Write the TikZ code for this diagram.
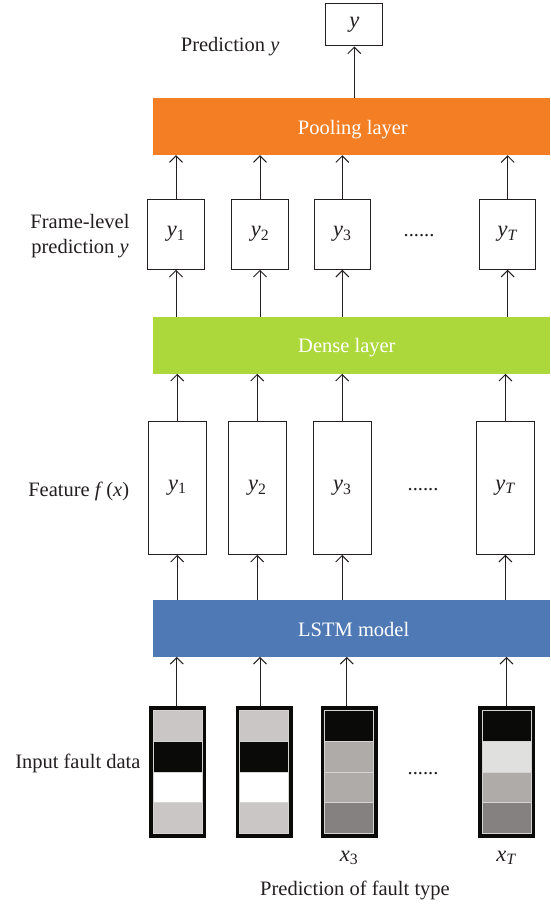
\documentclass[tikz,border=0pt]{standalone}
\usepackage{fontspec}
\setmainfont{Liberation Serif}
\usetikzlibrary{arrows.meta,calc}

\definecolor{poolc}{HTML}{F37E24}
\definecolor{densec}{HTML}{ADD83B}
\definecolor{lstmc}{HTML}{4F79B5}
\definecolor{ink}{HTML}{231F20}
\definecolor{cellA}{HTML}{C9C6C5}
\definecolor{cellK}{HTML}{0A0A08}
\definecolor{cellM}{HTML}{AEABA9}
\definecolor{cellD}{HTML}{858180}
\definecolor{cellL}{HTML}{E0E0DF}
\definecolor{cellG}{HTML}{D6D4D3}

% italic variable with upright / italic subscript
\newcommand\vsub[2]{\textit{#1}\textsubscript{#2}}
\newcommand\vsubit[2]{\textit{#1}\textsubscript{\textit{#2}}}

% one column of input fault data: name, centre x, four cell colours
\newcommand\faultcolumn[6]{%
  \node[fill=cellK, minimum width=57pt, minimum height=131.4pt] (#1) at (#2,772) {};
  \foreach \c [count=\i from 0] in {#3,#4,#5,#6} {
    \fill[\c, draw=cellG, line width=0.6pt]
      ($(#1.north west)+(4,{4+30.85*\i})$) rectangle ($(#1.north west)+(53,{4+30.85*(\i+1)})$);
  }%
}

\begin{document}
\begin{tikzpicture}[x=1pt,y=-1pt,
  every node/.style={font=\fontsize{20.5}{25}\selectfont, text=ink, inner sep=0pt},
  varfont/.style={font=\fontsize{22.5}{26}\selectfont},
  outbox/.style={draw=ink, line width=1pt, fill=white, varfont},
  framebox/.style={outbox, minimum width=56.6pt, minimum height=70.3pt},
  featbox/.style={outbox, minimum width=57.6pt, minimum height=132.6pt},
  layerbar/.style={minimum width=397.3pt, minimum height=56.7pt},
  barlabel/.style={anchor=base west, text=white},
  sidelabel/.style={anchor=base east},
  arr/.style={draw=ink, line width=1pt,
    -{Straight Barb[length=6.5pt,width=13pt,line width=1pt]}},
]
\useasboundingbox (0,0) rectangle (550,913);

% output
\node[outbox, minimum width=56.7pt, minimum height=42.3pt] (out) at (354.3,24.8) {\textit{y}};
\node[anchor=base west] (predlab) at (180.7,51.5) {Prediction \textit{y}};

% pooling layer
\node[layerbar, fill=poolc] (pool) at (351.35,126.65) {};
\node[barlabel] (poolt) at (297.7,134.3) {Pooling layer};

% frame-level predictions
\node[framebox] (r1) at (176,234.15) {\vsub{y}{1}};
\node[framebox] (r2) at (260,234.15) {\vsub{y}{2}};
\node[framebox] (r3) at (342.35,234.15) {\vsub{y}{3}};
\node[framebox] (rT) at (507.65,234.15) {\vsubit{y}{T}};
\node[anchor=base] (rdots) at (419,236) {......};
\node[anchor=base] (frl1) at (80,228) {Frame-level};
\node[anchor=base] (frl2) at (80,253) {prediction \textit{y}};

% dense layer
\node[layerbar, fill=densec] (dense) at (351.35,345.3) {};
\node[barlabel] (denset) at (298,352.9) {Dense layer};

% features
\node[featbox] (f1) at (177.2,488) {\vsub{y}{1}};
\node[featbox] (f2) at (257.2,488) {\vsub{y}{2}};
\node[featbox] (f3) at (342.2,488) {\vsub{y}{3}};
\node[featbox] (fT) at (505.4,488) {\vsubit{y}{T}};
\node[anchor=base] (fdots) at (423,490) {......};
\node[sidelabel] (featlab) at (129.3,496.5) {Feature \textit{f}\,(\textit{x})};

% LSTM model
\node[layerbar, fill=lstmc] (lstm) at (351.35,628.35) {};
\node[barlabel] (lstmt) at (298,636) {LSTM model};

% input fault data
\faultcolumn{in1}{177.5}{cellA}{cellK}{white}{cellA}
\faultcolumn{in2}{264}{cellA}{cellK}{white}{cellA}
\faultcolumn{in3}{349.3}{cellK}{cellM}{cellM}{cellD}
\faultcolumn{inT}{506.5}{cellK}{cellL}{cellM}{cellD}
\node[anchor=base] (idots) at (423,774) {......};
\node[sidelabel] (inlab) at (140.7,768.3) {Input fault data};
\node[varfont] (x3) at (349,858) {\vsub{x}{3}};
\node[varfont] (xT) at (506.5,858) {\vsubit{x}{T}};
\node[anchor=base] (foot) at (355,895) {Prediction of fault type};

% connectors
\draw[arr] (out.south |- pool.north) -- (out.south);
\foreach \n in {r1,r2,r3,rT} {
  \draw[arr] (\n.north) -- (\n.north |- pool.south);
  \draw[arr] (\n.south |- dense.north) -- (\n.south);
}
\foreach \n in {f1,f2,f3,fT} {
  \draw[arr] (\n.north) -- (\n.north |- dense.south);
  \draw[arr] (\n.south |- lstm.north) -- (\n.south);
}
\draw[arr] ([xshift=-0.8pt]in1.north) -- ([xshift=-0.8pt]in1.north |- lstm.south);
\draw[arr] ([xshift=-4pt]in2.north) -- ([xshift=-4pt]in2.north |- lstm.south);
\draw[arr] ([xshift=-2.6pt]in3.north) -- ([xshift=-2.6pt]in3.north |- lstm.south);
\draw[arr] (inT.north) -- (inT.north |- lstm.south);
\end{tikzpicture}
\end{document}
